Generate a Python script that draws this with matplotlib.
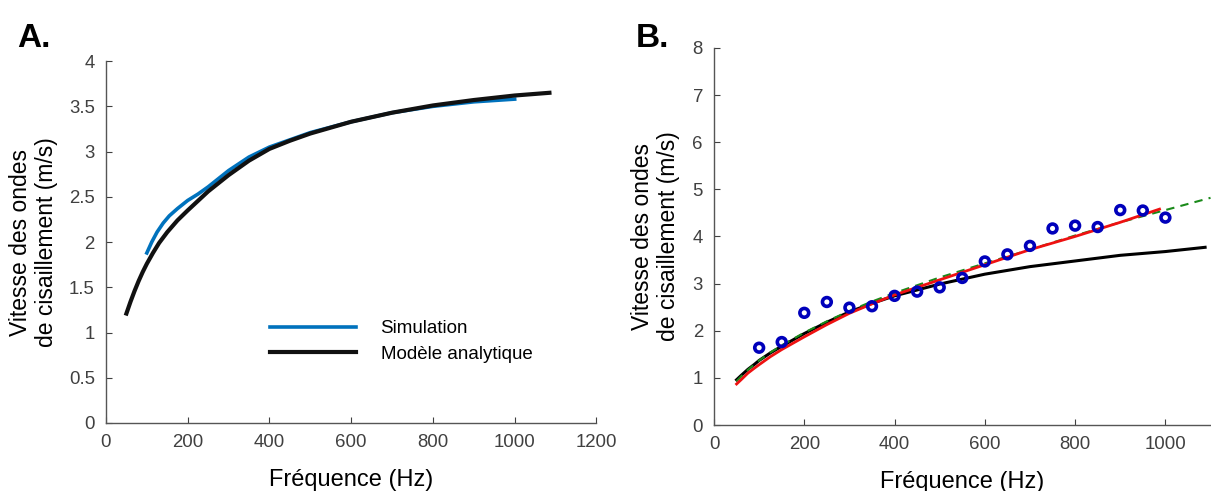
import matplotlib.pyplot as plt
import numpy as np

plt.rcParams['font.family'] = ['Liberation Sans', 'DejaVu Sans']

# panel A: simulation vs analytic model
freqA_model = [50, 60, 70, 80, 90, 100, 115, 130, 150, 175, 200, 250, 300, 350, 400, 450, 500, 600, 700, 800, 900, 1000, 1085]
velA_model = [1.21, 1.34, 1.46, 1.57, 1.67, 1.76, 1.88, 1.99, 2.11, 2.24, 2.35, 2.56, 2.74, 2.90, 3.03, 3.12, 3.20, 3.33, 3.43, 3.51, 3.57, 3.62, 3.65]
freqA_sim = [100, 112, 125, 140, 155, 175, 200, 225, 250, 300, 350, 400, 450, 500, 600, 700, 800, 900, 1000]
velA_sim = [1.88, 2.00, 2.11, 2.21, 2.29, 2.37, 2.46, 2.53, 2.61, 2.79, 2.94, 3.05, 3.13, 3.21, 3.33, 3.43, 3.50, 3.55, 3.58]

# panel B: measured points and fits
freqB_pts = [100, 150, 200, 250, 300, 350, 400, 450, 500, 550, 600, 650, 700, 750, 800, 850, 900, 950, 1000]
velB_pts = [1.64, 1.76, 2.38, 2.61, 2.49, 2.52, 2.74, 2.83, 2.92, 3.12, 3.47, 3.62, 3.80, 4.17, 4.23, 4.20, 4.56, 4.55, 4.40]
freqB_black = [50, 60, 75, 90, 100, 125, 150, 200, 250, 300, 350, 400, 500, 600, 700, 800, 900, 1000, 1088]
velB_black = [0.96, 1.05, 1.18, 1.29, 1.37, 1.53, 1.67, 1.94, 2.18, 2.40, 2.58, 2.74, 2.99, 3.20, 3.36, 3.48, 3.60, 3.68, 3.77]
freqB_red = [50, 60, 75, 90, 100, 125, 150, 200, 250, 300, 350, 400, 500, 600, 700, 800, 900, 987]
velB_red = [0.87, 0.96, 1.10, 1.21, 1.28, 1.45, 1.60, 1.87, 2.13, 2.37, 2.57, 2.76, 3.08, 3.40, 3.72, 4.00, 4.30, 4.58]
freqB_green = [50, 60, 75, 90, 100, 125, 150, 200, 250, 300, 350, 400, 500, 600, 700, 800, 900, 1000, 1100]
velB_green = [0.93, 1.03, 1.17, 1.29, 1.37, 1.54, 1.69, 1.96, 2.20, 2.42, 2.62, 2.80, 3.13, 3.43, 3.72, 4.02, 4.30, 4.56, 4.82]

ylab = 'Vitesse des ondes\nde cisaillement (m/s)'
tick_col = '#404040'

fig = plt.figure(figsize=(12.11, 4.91), dpi=100)

def style(ax):
    for s in ['top', 'right']:
        ax.spines[s].set_visible(False)
    for s in ['left', 'bottom']:
        ax.spines[s].set_color('#555555')
        ax.spines[s].set_linewidth(1.0)
    ax.tick_params(direction='in', length=4, colors=tick_col, labelsize=13.4, pad=8)
    ax.tick_params(axis='y', pad=8)

# ---- A ----
axA = fig.add_axes([0.0875, 0.1385, 0.405, 0.737])
axA.plot(freqA_sim, velA_sim, color='#0072BD', lw=2.6, label='Simulation')
axA.plot(freqA_model, velA_model, color='#111111', lw=3.0, label='Modèle analytique')
axA.set_xlim(0, 1200)
axA.set_ylim(0, 4)
axA.set_xticks(np.arange(0, 1201, 200))
yt = np.arange(0, 4.01, 0.5)
axA.set_yticks(yt)
axA.set_yticklabels(['%g' % v for v in yt])
style(axA)
axA.set_xlabel('Fréquence (Hz)', fontsize=17, labelpad=13)
axA.set_ylabel(ylab, fontsize=16.5, labelpad=8, linespacing=1.15)
axA.legend(loc='lower left', bbox_to_anchor=(0.30, 0.12), frameon=False, fontsize=13.5,
           handlelength=4.6, handletextpad=1.3, labelspacing=0.45)
fig.text(0.014, 0.905, 'A.', fontsize=24, fontweight='bold')

# ---- B ----
axB = fig.add_axes([0.5896, 0.1344, 0.41, 0.768])
axB.plot(freqB_black, velB_black, color='black', lw=2.2)
axB.plot(freqB_green, velB_green, color='#1a8a1a', lw=1.5, ls=(0, (4, 3)))
axB.plot(freqB_red, velB_red, color='#ee1111', lw=2.0)
axB.scatter(freqB_pts, velB_pts, s=40, facecolors='none', edgecolors='#0000bb', linewidths=2.6, zorder=5)
axB.set_xlim(0, 1100)
axB.set_ylim(0, 8)
axB.set_xticks(np.arange(0, 1001, 200))
axB.set_yticks(np.arange(0, 9, 1))
style(axB)
axB.set_xlabel('Fréquence (Hz)', fontsize=17, labelpad=13)
axB.set_ylabel(ylab, fontsize=16.5, labelpad=9, linespacing=1.15)
fig.text(0.525, 0.905, 'B.', fontsize=24, fontweight='bold')

fig.savefig('out.png', dpi=100)
